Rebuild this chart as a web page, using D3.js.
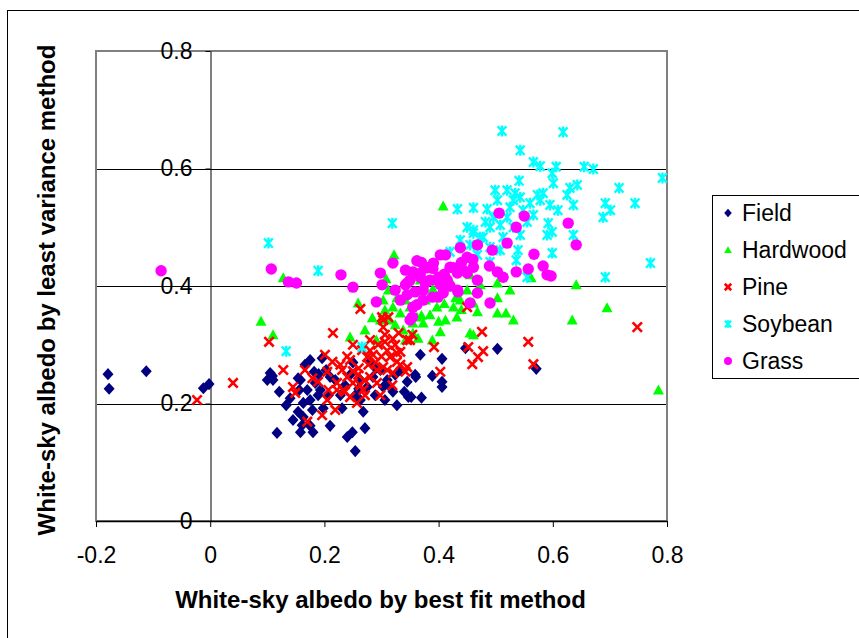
<!DOCTYPE html>
<html>
<head>
<meta charset="utf-8">
<title>White-sky albedo comparison</title>
<script src="https://cdn.jsdelivr.net/npm/d3@7/dist/d3.min.js"></script>
<style>
  body { margin: 0; background: #fff; }
  text { font-family: "Liberation Sans", Arial, sans-serif; fill: #000; }
</style>
</head>
<body>
<script>
// series names and colours
var categories = ["Field", "Hardwood", "Pine", "Soybean", "Grass"];
var colors = ["#000080", "#00FF00", "#FF0000", "#00FFFF", "#FF00FF"];

// tick labels
var xTicks = [-0.2, 0, 0.2, 0.4, 0.6, 0.8];
var yTicks = [0, 0.2, 0.4, 0.6, 0.8];

// [best fit, least variance]
var fieldPts = [
  [-0.179,0.250],[-0.177,0.225],[-0.112,0.255],[-0.012,0.226],[-0.002,0.233],
  [0.105,0.252],[0.100,0.240],[0.110,0.240],[0.121,0.220],[0.117,0.150],[0.109,0.247],
  [0.175,0.274],[0.182,0.254],[0.196,0.277],[0.154,0.243],[0.156,0.223],[0.170,0.223],
  [0.175,0.206],[0.163,0.201],[0.154,0.186],[0.163,0.177],[0.161,0.163],[0.175,0.162],
  [0.180,0.151],[0.184,0.235],[0.193,0.223],[0.198,0.192],[0.210,0.162],[0.231,0.192],
  [0.240,0.143],[0.249,0.151],[0.254,0.119],[0.271,0.158],[0.268,0.186],[0.275,0.228],
  [0.285,0.245],[0.303,0.228],[0.315,0.228],[0.327,0.197],[0.333,0.257],[0.345,0.237],
  [0.347,0.211],[0.447,0.294],[0.406,0.276],[0.389,0.247],[0.406,0.237],[0.406,0.228],
  [0.352,0.211],[0.503,0.293],[0.571,0.259],
  [0.219,0.240],[0.236,0.231],[0.245,0.249],[0.254,0.214],[0.263,0.240],[0.289,0.214],
  [0.298,0.257],[0.306,0.206],[0.324,0.249],[0.166,0.266],[0.189,0.214],[0.140,0.209],
  [0.133,0.197],[0.145,0.172],[0.158,0.151],[0.179,0.189],[0.207,0.214],[0.158,0.240],
  [0.263,0.206],[0.280,0.271],[0.368,0.283],[0.359,0.249],[0.203,0.257],[0.228,0.214],
  [0.290,0.260],[0.310,0.240],[0.320,0.220],[0.340,0.220],[0.360,0.245],[0.370,0.210],
  [0.260,0.225],[0.250,0.270],[0.210,0.245],[0.190,0.250]
];
var hardwoodPts = [
  [0.089,0.340],[0.110,0.317],[0.128,0.414],[0.245,0.313],[0.259,0.371],[0.291,0.308],
  [0.408,0.536],[0.322,0.453],[0.308,0.412],[0.327,0.380],[0.320,0.364],[0.333,0.354],
  [0.350,0.364],[0.362,0.347],[0.373,0.337],[0.397,0.364],[0.403,0.388],[0.415,0.398],
  [0.426,0.364],[0.432,0.347],[0.450,0.393],[0.455,0.320],[0.403,0.322],[0.389,0.308],
  [0.355,0.320],[0.315,0.342],[0.338,0.325],[0.503,0.405],[0.525,0.393],[0.641,0.402],
  [0.695,0.363],[0.634,0.342],[0.531,0.342],[0.503,0.354],[0.518,0.354],[0.461,0.317],
  [0.785,0.223],[0.461,0.371],[0.503,0.380],[0.364,0.311],[0.468,0.356],[0.355,0.337],
  [0.562,0.414],
  [0.298,0.342],[0.306,0.359],[0.324,0.334],[0.342,0.376],[0.377,0.376],[0.385,0.351],
  [0.412,0.342],[0.438,0.376],[0.420,0.410],[0.455,0.419],[0.473,0.402],[0.368,0.410],
  [0.342,0.308],[0.271,0.325],[0.284,0.346],[0.303,0.376],[0.312,0.393],
  [0.360,0.390],[0.390,0.395],[0.410,0.370],[0.430,0.380],[0.440,0.360],[0.370,0.350],
  [0.400,0.340]
];
var pinePts = [
  [-0.023,0.206],[0.040,0.235],[0.103,0.305],[0.128,0.257],[0.170,0.169],[0.215,0.320],
  [0.263,0.361],[0.250,0.300],[0.145,0.228],[0.149,0.218],[0.166,0.257],[0.201,0.283],
  [0.205,0.254],[0.205,0.206],[0.222,0.235],[0.231,0.257],[0.240,0.245],[0.250,0.235],
  [0.257,0.201],[0.268,0.223],[0.275,0.279],[0.285,0.283],[0.292,0.235],[0.303,0.262],
  [0.306,0.305],[0.303,0.342],[0.315,0.279],[0.327,0.286],[0.333,0.266],[0.345,0.308],
  [0.214,0.271],[0.222,0.223],[0.233,0.223],[0.245,0.211],[0.259,0.249],[0.277,0.266],
  [0.280,0.245],[0.292,0.257],[0.310,0.257],[0.320,0.252],[0.327,0.271],[0.301,0.347],
  [0.312,0.347],[0.303,0.330],[0.306,0.317],[0.450,0.364],[0.354,0.317],[0.476,0.322],
  [0.350,0.308],[0.392,0.296],[0.452,0.296],[0.478,0.289],[0.469,0.279],[0.459,0.267],
  [0.557,0.305],[0.566,0.267],[0.748,0.330],[0.403,0.254],[0.345,0.262],[0.342,0.254],
  [0.333,0.288],
  [0.228,0.266],[0.245,0.274],[0.266,0.291],[0.280,0.308],[0.294,0.300],[0.324,0.300],
  [0.263,0.231],[0.236,0.220],[0.207,0.223],[0.189,0.237],[0.179,0.243],[0.271,0.214],
  [0.298,0.214],[0.319,0.231],[0.219,0.189],[0.196,0.180],
  [0.280,0.290],[0.290,0.270],[0.310,0.290],[0.260,0.260],[0.250,0.255],[0.320,0.310],
  [0.300,0.280],[0.240,0.280],[0.270,0.240],[0.330,0.320]
];
var soybeanPts = [
  [0.102,0.473],[0.189,0.426],[0.133,0.289],[0.266,0.296],[0.319,0.507],[0.420,0.458],
  [0.511,0.664],[0.618,0.662],[0.543,0.631],[0.566,0.611],[0.578,0.604],[0.606,0.603],
  [0.655,0.603],[0.671,0.599],[0.792,0.584],[0.541,0.579],[0.599,0.592],[0.601,0.575],
  [0.643,0.572],[0.716,0.567],[0.499,0.563],[0.520,0.563],[0.534,0.558],[0.573,0.555],
  [0.578,0.546],[0.625,0.555],[0.636,0.538],[0.692,0.541],[0.744,0.541],[0.701,0.529],
  [0.688,0.517],[0.433,0.531],[0.461,0.533],[0.485,0.531],[0.609,0.529],[0.595,0.538],
  [0.566,0.521],[0.592,0.507],[0.590,0.487],[0.599,0.492],[0.636,0.487],[0.771,0.439],
  [0.692,0.415],[0.599,0.456],[0.536,0.444],[0.555,0.415],[0.450,0.500],[0.461,0.490],
  [0.478,0.483],[0.490,0.500],[0.508,0.504],[0.520,0.517],[0.525,0.534],[0.496,0.517],
  [0.473,0.483],[0.513,0.483],[0.531,0.500],[0.548,0.529],[0.560,0.541],[0.490,0.466],
  [0.508,0.461],[0.468,0.453],[0.490,0.441],[0.539,0.461],[0.461,0.495],[0.503,0.546],
  [0.531,0.546],[0.543,0.551],[0.583,0.558],[0.630,0.567],[0.543,0.487],[0.482,0.509],
  [0.555,0.509],[0.438,0.478],[0.455,0.470]
];
var grassPts = [
  [-0.086,0.426],[0.107,0.429],[0.137,0.407],[0.151,0.405],[0.229,0.419],[0.250,0.398],
  [0.298,0.422],[0.320,0.439],[0.301,0.402],[0.291,0.373],[0.342,0.402],[0.362,0.443],
  [0.355,0.424],[0.359,0.390],[0.355,0.364],[0.354,0.347],[0.380,0.431],[0.385,0.410],
  [0.373,0.393],[0.389,0.381],[0.403,0.453],[0.412,0.453],[0.403,0.402],[0.415,0.410],
  [0.408,0.388],[0.420,0.432],[0.433,0.422],[0.438,0.465],[0.450,0.449],[0.433,0.393],
  [0.450,0.422],[0.461,0.432],[0.468,0.470],[0.468,0.410],[0.391,0.439],[0.368,0.415],
  [0.377,0.405],[0.506,0.524],[0.550,0.519],[0.536,0.500],[0.520,0.473],[0.494,0.461],
  [0.627,0.507],[0.641,0.470],[0.567,0.454],[0.489,0.434],[0.503,0.424],[0.513,0.415],
  [0.536,0.424],[0.557,0.429],[0.583,0.434],[0.590,0.419],[0.597,0.417],[0.468,0.388],
  [0.455,0.371],[0.490,0.371],[0.434,0.390],[0.399,0.381],[0.362,0.368],[0.345,0.385],
  [0.345,0.405],[0.342,0.427],[0.426,0.431],[0.443,0.427],[0.368,0.422],[0.398,0.410],
  [0.373,0.376],[0.324,0.393],[0.333,0.376],[0.350,0.342],
  [0.390,0.430],[0.410,0.420],[0.420,0.400],[0.440,0.440],[0.460,0.445],[0.370,0.440],
  [0.400,0.415],[0.350,0.410]
];
var seriesPts = [fieldPts, hardwoodPts, pinePts, soybeanPts, grassPts];

var W = 859, H = 638;
var plot = {left: 96, right: 667, top: 51, bottom: 521};

var svg = d3.select("body").append("svg")
  .attr("width", W).attr("height", H);

// outer chart border (runs off the right and bottom edges)
svg.append("rect")
  .attr("x", 7.5).attr("y", 10.5).attr("width", 900).attr("height", 700)
  .attr("fill", "#fff").attr("stroke", "#000").attr("stroke-width", 1);

var x = d3.scaleLinear().domain([-0.2, 0.8]).range([plot.left, plot.right]);
var y = d3.scaleLinear().domain([0, 0.8]).range([plot.bottom, plot.top]);

function fmt(d) { return d === 0 ? "0" : (d < 0 ? "-" : "") + Math.abs(d).toFixed(1); }

// horizontal gridlines
svg.append("g").selectAll("line")
  .data(yTicks.filter(function(d) { return d > 0 && d < 0.8; }))
  .enter().append("line")
  .attr("x1", plot.left).attr("x2", plot.right)
  .attr("y1", function(d) { return Math.round(y(d)) + 0.5; })
  .attr("y2", function(d) { return Math.round(y(d)) + 0.5; })
  .attr("stroke", "#000").attr("stroke-width", 1);

// plot area border
svg.append("rect")
  .attr("x", plot.left).attr("y", plot.top)
  .attr("width", plot.right - plot.left).attr("height", plot.bottom - plot.top)
  .attr("fill", "none").attr("stroke", "#808080").attr("stroke-width", 2);

// x axis
var xAxis = d3.axisBottom(x).tickValues(xTicks).tickFormat(fmt)
  .tickSize(6).tickPadding(20).tickSizeOuter(0);
var gx = svg.append("g").attr("transform", "translate(0," + plot.bottom + ")").call(xAxis);
gx.select(".domain").attr("stroke", "#000").attr("stroke-width", 1.5);
gx.selectAll("text").attr("font-size", 23).attr("font-family", "Liberation Sans, Arial, sans-serif");

// y axis crosses at x = 0
var yAxis = d3.axisLeft(y).tickValues(yTicks).tickFormat(fmt)
  .tickSize(5).tickPadding(13).tickSizeOuter(0);
var gy = svg.append("g").attr("transform", "translate(" + (Math.round(x(0)) + 0.5) + ",0)").call(yAxis);
gy.select(".domain").attr("stroke", "#000").attr("stroke-width", 1);
gy.selectAll("text").attr("font-size", 23).attr("font-family", "Liberation Sans, Arial, sans-serif");

// marker shapes
function markerPath(i, s) {
  if (i === 0) return "M0," + (-s * 1.1) + "L" + s + ",0L0," + (s * 1.1) + "L" + (-s) + ",0Z";
  if (i === 1) return "M0," + (-s) + "L" + s + "," + (s * 0.8) + "L" + (-s) + "," + (s * 0.8) + "Z";
  if (i === 2) return "M" + (-s * 0.85) + "," + (-s * 0.85) + "L" + (s * 0.85) + "," + (s * 0.85) +
                      "M" + (s * 0.85) + "," + (-s * 0.85) + "L" + (-s * 0.85) + "," + (s * 0.85);
  if (i === 3) return "M" + (-s * 0.8) + "," + (-s * 0.85) + "L" + (s * 0.8) + "," + (s * 0.85) +
                      "M" + (s * 0.8) + "," + (-s * 0.85) + "L" + (-s * 0.8) + "," + (s * 0.85) +
                      "M0," + (-s) + "L0," + s;
  return null;
}

function drawMarker(sel, i, s) {
  if (i === 4) {
    sel.append("circle").attr("r", s).attr("fill", colors[i]);
  } else if (i === 2 || i === 3) {
    sel.append("path").attr("d", markerPath(i, s)).attr("fill", "none")
      .attr("stroke", colors[i]).attr("stroke-width", i === 2 ? 2.6 : 2.4);
  } else {
    sel.append("path").attr("d", markerPath(i, s)).attr("fill", colors[i]);
  }
}

// points
seriesPts.forEach(function(pts, i) {
  var g = svg.append("g").attr("class", "series-" + categories[i]);
  g.selectAll("g").data(pts).enter().append("g")
    .attr("transform", function(d) { return "translate(" + x(d[0]) + "," + y(d[1]) + ")"; })
    .each(function() { drawMarker(d3.select(this), i, i === 4 ? 5.7 : 5.5); });
});

// axis titles
svg.append("text")
  .attr("x", (plot.left + plot.right) / 2 - 1).attr("y", 608)
  .attr("text-anchor", "middle").attr("font-size", 24).attr("font-weight", "bold")
  .text("White-sky albedo by best fit method");

svg.append("text")
  .attr("transform", "translate(55,290) rotate(-90)")
  .attr("text-anchor", "middle").attr("font-size", 24).attr("font-weight", "bold")
  .text("White-sky albedo by least variance method");

// legend
var leg = svg.append("g");
leg.append("rect")
  .attr("x", 712.5).attr("y", 195.5).attr("width", 160).attr("height", 183)
  .attr("fill", "#fff").attr("stroke", "#000").attr("stroke-width", 1);
categories.forEach(function(c, i) {
  var row = leg.append("g").attr("transform", "translate(0," + (213 + i * 37) + ")");
  var m = row.append("g").attr("transform", "translate(728,0)");
  drawMarker(m, i, i === 4 ? 4 : 3.8);
  row.append("text").attr("x", 742).attr("y", 0).attr("dy", "0.35em")
    .attr("font-size", 23).text(c);
});
</script>
</body>
</html>
